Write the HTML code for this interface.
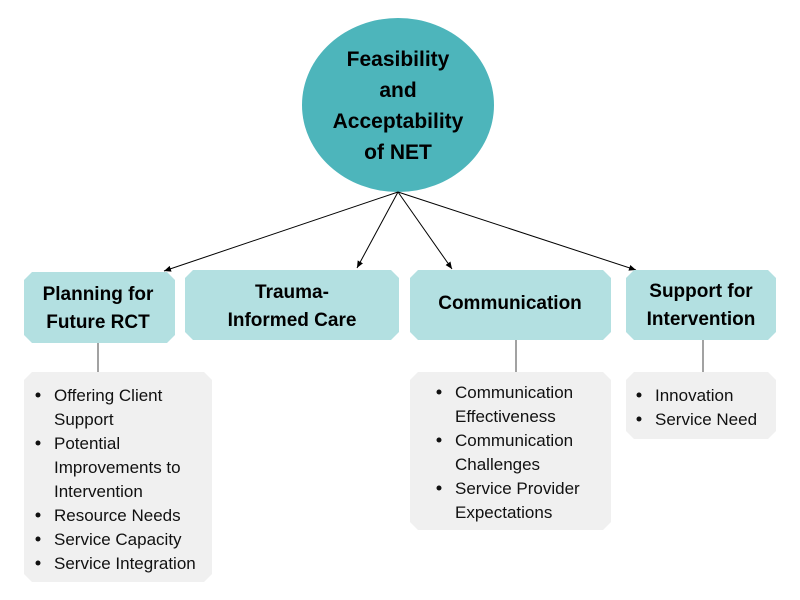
<!DOCTYPE html>
<html><head><meta charset="utf-8"><style>
html,body{margin:0;padding:0;background:#fff;}
svg{display:block;}
.t{font-family:"Liberation Sans",sans-serif;font-weight:bold;font-size:19px;fill:#000;text-anchor:middle;}
.c{font-family:"Liberation Sans",sans-serif;font-weight:bold;font-size:21px;fill:#000;text-anchor:middle;}
.l{font-family:"Liberation Sans",sans-serif;font-size:17px;fill:#111;}
</style></head><body>
<svg width="800" height="600" viewBox="0 0 800 600" xmlns="http://www.w3.org/2000/svg">
<defs><marker id="a" markerWidth="8" markerHeight="8" refX="7" refY="4" orient="auto" markerUnits="userSpaceOnUse"><path d="M0,1 L7,4 L0,7 z" fill="#000"/></marker></defs>
<ellipse cx="398" cy="105" rx="96" ry="87" fill="#4db5bb"/>
<text class="c" x="398" y="66">Feasibility</text>
<text class="c" x="398" y="97">and</text>
<text class="c" x="398" y="128">Acceptability</text>
<text class="c" x="398" y="159">of NET</text>
<g stroke="#000" stroke-width="1" marker-end="url(#a)">
<line x1="398" y1="192" x2="164" y2="271"/>
<line x1="398" y1="192" x2="357" y2="268"/>
<line x1="398" y1="192" x2="452" y2="269"/>
<line x1="398" y1="192" x2="636" y2="270"/>
</g>
<g fill="#b3e0e1">
<polygon points="32,272 167,272 175,280 175,335 167,343 32,343 24,335 24,280"/>
<polygon points="193,270 391,270 399,278 399,332 391,340 193,340 185,332 185,278"/>
<polygon points="418,270 603,270 611,278 611,332 603,340 418,340 410,332 410,278"/>
<polygon points="634,270 768,270 776,278 776,332 768,340 634,340 626,332 626,278"/>
</g>
<g fill="#f0f0f0">
<polygon points="32,372 204,372 212,380 212,574 204,582 32,582 24,574 24,380"/>
<polygon points="418,372 603,372 611,380 611,522 603,530 418,530 410,522 410,380"/>
<polygon points="634,372 768,372 776,380 776,431 768,439 634,439 626,431 626,380"/>
</g>
<g stroke="#444" stroke-width="1">
<line x1="98" y1="343" x2="98" y2="372"/>
<line x1="516" y1="340" x2="516" y2="372"/>
<line x1="703" y1="340" x2="703" y2="372"/>
</g>
<text class="t" x="98" y="300">Planning for</text>
<text class="t" x="98" y="328">Future RCT</text>
<text class="t" x="292" y="298">Trauma-</text>
<text class="t" x="292" y="326">Informed Care</text>
<text class="t" x="510" y="309">Communication</text>
<text class="t" x="701" y="297">Support for</text>
<text class="t" x="701" y="325">Intervention</text>
<g class="l">
<text x="54" y="401">Offering Client</text>
<text x="54" y="425">Support</text>
<text x="54" y="449">Potential</text>
<text x="54" y="473">Improvements to</text>
<text x="54" y="497">Intervention</text>
<text x="54" y="521">Resource Needs</text>
<text x="54" y="545">Service Capacity</text>
<text x="54" y="569">Service Integration</text>
<text x="455" y="398">Communication</text>
<text x="455" y="422">Effectiveness</text>
<text x="455" y="446">Communication</text>
<text x="455" y="470">Challenges</text>
<text x="455" y="494">Service Provider</text>
<text x="455" y="518">Expectations</text>
<text x="655" y="401">Innovation</text>
<text x="655" y="425">Service Need</text>
</g>
<g fill="#111">
<circle cx="38" cy="395" r="2.5"/><circle cx="38" cy="443" r="2.5"/><circle cx="38" cy="515" r="2.5"/><circle cx="38" cy="539" r="2.5"/><circle cx="38" cy="563" r="2.5"/>
<circle cx="439" cy="392" r="2.5"/><circle cx="439" cy="440" r="2.5"/><circle cx="439" cy="488" r="2.5"/>
<circle cx="639" cy="395" r="2.5"/><circle cx="639" cy="419" r="2.5"/>
</g>
</svg>
</body></html>
